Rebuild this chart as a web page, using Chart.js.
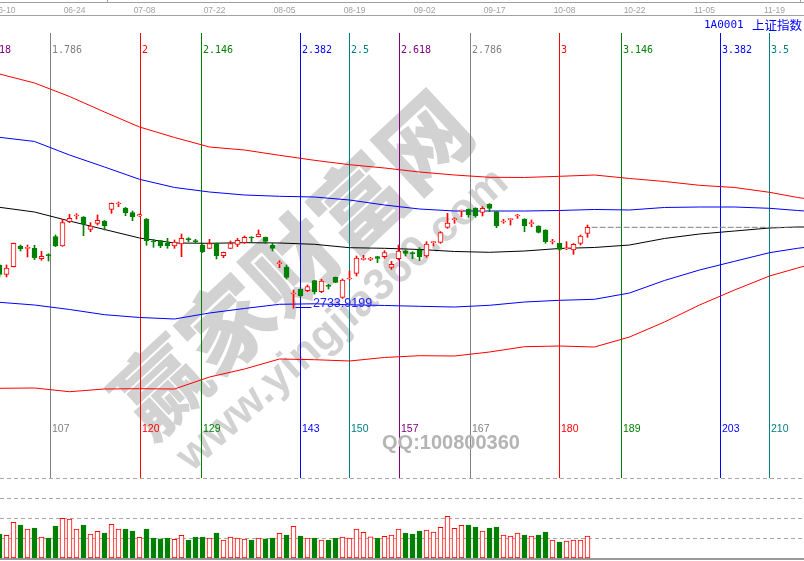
<!DOCTYPE html>
<html>
<head>
<meta charset="utf-8">
<script src="https://cdn.jsdelivr.net/npm/chart.js@4.4.0/dist/chart.umd.min.js"></script>
<style>
  html, body { margin: 0; padding: 0; background: #fff; }
  #kline { display: block; }
</style>
</head>
<body>
<canvas id="kline" width="804" height="561"></canvas>
<script>
// 1A0001 daily bars, first bar on screen = bar 100 (06-06)
const firstBar = 100;

const opens = [
  2859.5, 2832.0, 2854.6, 2914.6, 2907.9, 2907.9, 2877.8, 2888.5, 2941.6, 2914.6,
  2985.1, 3001.6, 2997.8, 2963.0, 2980.4, 2987.1, 3021.0, 3036.4, 3024.8, 3011.2,
  3001.6, 2992.9, 2928.2, 2930.0, 2922.4, 2914.6, 2920.4, 2934.9, 2929.1, 2917.5,
  2907.9, 2922.4, 2886.5, 2907.9, 2919.5, 2924.2, 2939.8, 2941.6, 2939.8, 2917.5,
  2863.3, 2853.7, 2775.4, 2789.0, 2785.0, 2814.0, 2782.1, 2799.5, 2823.8, 2765.8,
  2818.9, 2835.4, 2876.0, 2876.0, 2883.6, 2883.6, 2852.8, 2877.8, 2900.1, 2895.2,
  2903.0, 2885.6, 2924.2, 2925.3, 2968.8, 2990.9, 3016.1, 3021.0, 3023.9, 3012.3,
  3036.4, 3014.1, 2984.2, 2990.9, 3001.6, 2992.9, 2979.3, 2972.6, 2961.0, 2926.2,
  2922.4, 2905.9, 2903.0, 2922.4, 2951.4
];
const highs = [
  2861.0, 2859.5, 2923.3, 2917.5, 2917.5, 2916.6, 2899.2, 2892.3, 2946.5, 2992.0,
  3006.5, 3008.3, 3000.2, 2982.2, 3004.5, 2988.6, 3039.3, 3042.2, 3026.3, 3016.1,
  3007.4, 2994.4, 2934.0, 2931.1, 2936.9, 2932.0, 2949.4, 2938.7, 2934.0, 2919.0,
  2934.0, 2923.3, 2897.2, 2929.1, 2936.9, 2943.6, 2941.6, 2961.0, 2940.7, 2922.4,
  2872.0, 2859.5, 2787.0, 2789.9, 2801.5, 2815.1, 2818.0, 2803.5, 2824.7, 2818.9,
  2842.1, 2885.6, 2887.6, 2881.8, 2884.2, 2901.0, 2870.2, 2917.5, 2903.0, 2898.1,
  2909.7, 2927.1, 2927.1, 2956.1, 3009.4, 2996.7, 3019.0, 3021.9, 3025.7, 3028.6,
  3037.3, 3014.7, 2992.0, 2993.8, 3006.5, 2993.8, 2990.0, 2973.5, 2961.9, 2934.0,
  2923.3, 2927.1, 2921.9, 2946.5, 2975.5
];
const lows = [
  2824.7, 2824.7, 2853.7, 2900.1, 2882.7, 2874.9, 2873.1, 2871.1, 2912.6, 2913.7,
  2982.2, 2992.9, 2944.5, 2956.1, 2975.5, 2961.0, 3009.4, 3028.6, 3002.5, 2988.0,
  3000.2, 2916.6, 2910.8, 2909.7, 2907.9, 2907.9, 2883.6, 2927.1, 2922.4, 2895.8,
  2907.4, 2876.9, 2880.7, 2907.4, 2912.6, 2922.4, 2927.1, 2940.7, 2922.4, 2900.1,
  2851.7, 2818.9, 2733.9199, 2766.7, 2782.1, 2775.4, 2779.2, 2789.9, 2808.2, 2762.4,
  2816.0, 2827.6, 2874.0, 2872.0, 2866.2, 2878.9, 2847.0, 2874.0, 2885.6, 2877.8,
  2872.0, 2881.8, 2914.6, 2922.4, 2965.9, 2980.4, 2999.6, 2997.8, 2997.8, 3001.6,
  3014.1, 2967.7, 2980.4, 2975.5, 2994.9, 2956.1, 2970.6, 2952.3, 2922.4, 2920.4,
  2901.0, 2903.9, 2890.5, 2917.5, 2939.8
];
const closes = [
  2832.0, 2850.8, 2922.4, 2906.8, 2909.7, 2880.7, 2884.7, 2886.5, 2914.6, 2982.2,
  2994.9, 3003.6, 2978.4, 2972.6, 2989.1, 2973.5, 3038.4, 3038.4, 3011.2, 2999.6,
  3005.4, 2930.0, 2926.2, 2914.6, 2915.5, 2926.2, 2936.9, 2932.9, 2927.1, 2898.1,
  2921.3, 2886.5, 2896.3, 2921.3, 2931.1, 2939.8, 2937.8, 2949.4, 2928.2, 2907.9,
  2866.2, 2823.8, 2778.3, 2770.5, 2796.6, 2782.1, 2813.1, 2797.7, 2809.3, 2816.0,
  2821.8, 2879.8, 2877.8, 2877.8, 2878.9, 2895.2, 2861.5, 2900.1, 2893.4, 2891.4,
  2883.6, 2920.4, 2926.2, 2953.2, 2981.3, 2992.9, 3018.1, 3004.5, 3002.5, 3023.9,
  3023.9, 2972.6, 2986.2, 2992.9, 3003.6, 2973.5, 2981.3, 2954.3, 2927.1, 2928.2,
  2905.0, 2907.9, 2919.5, 2943.6, 2968.8
];
// 万手
const volumes = [
  16800, 15900, 25000, 23100, 20300, 21000, 14700, 14000, 22400, 27800,
  27300, 20300, 23100, 16800, 18700, 17500, 23600, 20300, 20300, 18900,
  14500, 20300, 14000, 13500, 14000, 13100, 15900, 12600, 14700, 14700,
  14000, 17500, 12600, 14700, 14000, 13300, 12600, 14000, 13500, 14000,
  17300, 16100, 22200, 15400, 14000, 14000, 12600, 12600, 14000, 14700,
  14000, 20300, 18000, 14900, 14000, 15200, 16100, 20300, 17500, 16800,
  18900, 19600, 18200, 21500, 29200, 20800, 22900, 23100, 21700, 18900,
  21000, 21700, 16100, 15400, 17500, 16100, 15400, 16100, 18200, 12600,
  11200, 11900, 12600, 12600, 15400
];

// band lines, read every 5 bars (they run on past the last bar)
const bandBars = [100, 105, 110, 115, 120, 125, 130, 135, 140, 145, 150, 155, 160,
  165, 170, 175, 180, 185, 190, 195, 200, 205, 210, 214, 215];
const bandUp2 = [3413.4, 3387.3, 3348.2, 3303.2, 3259.7, 3229.3, 3201.7, 3193.0, 3177.6,
  3163.1, 3150.4, 3140.8, 3129.2, 3120.5, 3113.8, 3113.3, 3116.7, 3120.5, 3110.4,
  3101.7, 3090.6, 3084.3, 3070.3, 3055.3, 3052.4];
const bandUp1 = [3229.8, 3217.7, 3178.5, 3143.7, 3108.0, 3084.3, 3071.2, 3062.5, 3058.7,
  3056.7, 3048.0, 3033.5, 3021.9, 3016.1, 3016.1, 3016.1, 3017.6, 3020.5, 3019.0,
  3026.3, 3027.7, 3027.7, 3023.9, 3017.6, 3016.1];
const bandMid = [3026.8, 3013.2, 2987.1, 2962.5, 2937.8, 2923.3, 2922.4, 2924.2, 2923.3,
  2919.5, 2909.7, 2907.9, 2904.5, 2898.7, 2896.3, 2900.1, 2907.4, 2910.3, 2917.5,
  2936.4, 2949.4, 2958.1, 2966.8, 2969.7, 2969.7];
const bandLow1 = [2751.3, 2743.5, 2730.5, 2715.4, 2707.3, 2702.9, 2720.3, 2733.4, 2745.5,
  2747.0, 2744.1, 2742.1, 2739.7, 2737.7, 2742.6, 2752.2, 2757.1, 2760.0, 2778.3,
  2814.6, 2845.0, 2870.2, 2895.2, 2907.9, 2910.3];
const bandLow2 = [2501.9, 2502.8, 2492.1, 2499.9, 2500.8, 2499.9, 2534.7, 2557.9, 2586.9,
  2584.9, 2581.1, 2591.3, 2596.5, 2595.6, 2607.2, 2622.6, 2624.6, 2621.7, 2650.7,
  2694.2, 2743.5, 2787.0, 2827.6, 2850.8, 2856.6];

// date ticks on the top strip
const tickBars = [101, 111, 121, 131, 141, 151, 161, 171, 181, 191, 201, 211];
const tickDates = ['06-10', '06-24', '07-08', '07-22', '08-05', '08-19',
  '09-02', '09-17', '10-08', '10-22', '11-05', '11-19'];

// fibonacci time lines
const fibUnit = 60;
const fibRatios = [1.618, 1.786, 2, 2.146, 2.382, 2.5, 2.618, 2.786, 3, 3.146, 3.382, 3.5];
const fibCounts = [97, 107, 120, 129, 143, 150, 157, 167, 180, 189, 203, 210];
const fibColors = ['#800080', '#808080', '#ff0000', '#008000', '#0000ff', '#008080',
  '#800080', '#808080', '#ff0000', '#008000', '#0000ff', '#008080'];

const volGrid = [14000, 28000, 42000, 56000];

const RED = '#ff0000';
const GREEN = '#008000';

const isUp = k => closes[k] >= opens[k];
const barAt = k => firstBar + k;

const bodyData = opens.map((o, k) => ({ x: barAt(k), y: [o, closes[k]] }));
const wickData = lows.map((l, k) => ({ x: barAt(k), y: [l, highs[k]] }));
const volData = volumes.map((v, k) => ({ x: barAt(k), y: v }));
const band = arr => arr.map((v, n) => ({ x: bandBars[n], y: v }));

const lastK = closes.length - 1;
const lastLine = [
  { x: barAt(lastK) + 0.6, y: closes[lastK] },
  { x: bandBars[bandBars.length - 1], y: closes[lastK] }
];

function bandSet(data, color) {
  return {
    type: 'line', data: data, borderColor: color, borderWidth: 1,
    pointRadius: 0, fill: false, tension: 0, yAxisID: 'y', order: 5
  };
}

// background: frame, dates, watermark, fib lines, volume grid
const paperPlugin = {
  id: 'paper',
  beforeDatasetsDraw(chart) {
    const ctx = chart.ctx;
    const xs = chart.scales.x;
    const yv = chart.scales.yv;
    const w = chart.width;
    ctx.save();
    ctx.fillStyle = '#ffffff';
    ctx.fillRect(0, 0, w, chart.height);

    // watermark
    ctx.fillStyle = '#d2d2d2';
    ctx.textAlign = 'center';
    ctx.textBaseline = 'middle';
    ctx.save();
    ctx.translate(292, 264);
    ctx.rotate(-43 * Math.PI / 180);
    ctx.font = '900 90px "Noto Sans CJK SC"';
    ctx.fillText('赢家财富网', 0, 0);
    ctx.restore();
    ctx.save();
    ctx.translate(343, 320);
    ctx.rotate(-42 * Math.PI / 180);
    ctx.font = 'bold 44px "Liberation Sans"';
    ctx.fillText('www.yingjia360.com', 0, 0);
    ctx.restore();

    // top strip
    ctx.strokeStyle = '#a0a0a0';
    ctx.lineWidth = 1;
    ctx.beginPath();
    ctx.moveTo(0, 2.5); ctx.lineTo(w, 2.5);
    ctx.moveTo(0, 15.5); ctx.lineTo(w, 15.5);
    ctx.moveTo(800.5, 0); ctx.lineTo(800.5, 2.5);
    ctx.moveTo(107.5, 0); ctx.lineTo(107.5, 2.5);
    ctx.stroke();
    ctx.fillStyle = '#a0a0a0';
    ctx.font = '8.5px "Liberation Sans"';
    tickBars.forEach((b, n) => {
      ctx.fillText(tickDates[n], xs.getPixelForValue(b) - 2, 11);
    });

    // title
    ctx.fillStyle = '#0000ff';
    ctx.textAlign = 'left';
    ctx.font = '11px "DejaVu Sans Mono"';
    ctx.fillText('1A0001', 704, 25.5);
    ctx.font = '12.5px "Noto Sans CJK SC"';
    ctx.fillText('上证指数', 752, 25.5);

    // fib time lines
    const yTop = 33;
    const yBot = Math.round(yv.getPixelForValue(volGrid[volGrid.length - 1]));
    fibRatios.forEach((r, n) => {
      const px = Math.round(xs.getPixelForValue(r * fibUnit)) + 0.5;
      ctx.strokeStyle = fibColors[n];
      ctx.beginPath();
      ctx.moveTo(px, yTop);
      ctx.lineTo(px, yBot);
      ctx.stroke();
      ctx.fillStyle = fibColors[n];
      ctx.font = '10px "DejaVu Sans Mono"';
      ctx.fillText(String(r), px + 1.5, 50);
      ctx.font = '10.5px "Liberation Sans"';
      ctx.fillText(String(fibCounts[n]), px + 1.5, 429);
    });

    // QQ
    ctx.fillStyle = '#b4b4b4';
    ctx.textAlign = 'center';
    ctx.font = 'bold 20px "Liberation Sans"';
    ctx.fillText('QQ:100800360', 451, 443);

    // volume grid
    ctx.strokeStyle = '#a8a8a8';
    ctx.setLineDash([4, 3]);
    volGrid.forEach(v => {
      const py = Math.round(yv.getPixelForValue(v)) + 0.5;
      ctx.beginPath();
      ctx.moveTo(0, py);
      ctx.lineTo(w, py);
      ctx.stroke();
    });
    ctx.setLineDash([]);
    ctx.fillStyle = '#999999';
    ctx.fillRect(0, Math.round(yv.getPixelForValue(0)), w, 2);
    ctx.restore();
  },
  afterDatasetsDraw(chart) {
    // lowest price note
    const ctx = chart.ctx;
    const xs = chart.scales.x;
    const ys = chart.scales.y;
    const lowVal = Math.min(...lows);
    const k = lows.indexOf(lowVal);
    const lx = xs.getPixelForValue(barAt(k));
    const ly = ys.getPixelForValue(lowVal);
    ctx.save();
    ctx.strokeStyle = '#0000ff';
    ctx.lineWidth = 1;
    ctx.beginPath();
    ctx.moveTo(lx + 2, Math.round(ly) - 0.5);
    ctx.lineTo(lx + 18, Math.round(ly) - 0.5);
    ctx.stroke();
    ctx.fillStyle = '#2020ff';
    ctx.font = '12.5px "Liberation Sans"';
    ctx.textAlign = 'left';
    ctx.textBaseline = 'alphabetic';
    ctx.fillText(lowVal.toFixed(4), lx + 19.5, ly - 1.5);
    ctx.restore();
  }
};

let klineChart = new Chart(document.getElementById('kline'), {
  type: 'bar',
  data: {
    datasets: [
      {
        label: 'body',
        data: bodyData,
        yAxisID: 'y',
        barThickness: 5,
        minBarLength: 1,
        borderWidth: 1,
        borderSkipped: false,
        backgroundColor: c => (isUp(c.dataIndex) ? '#ffffff' : GREEN),
        borderColor: c => (isUp(c.dataIndex) ? RED : GREEN),
        order: 1
      },
      {
        label: 'wick',
        data: wickData,
        yAxisID: 'y',
        barThickness: 1,
        borderWidth: 0,
        backgroundColor: c => (isUp(c.dataIndex) ? RED : GREEN),
        order: 2
      },
      {
        label: 'volume',
        data: volData,
        yAxisID: 'yv',
        barThickness: 5,
        borderWidth: 1,
        borderSkipped: false,
        backgroundColor: c => (isUp(c.dataIndex) ? '#ffffff' : GREEN),
        borderColor: c => (isUp(c.dataIndex) ? RED : GREEN),
        order: 1
      },
      bandSet(band(bandUp2), RED),
      bandSet(band(bandUp1), '#0000ff'),
      bandSet(band(bandMid), '#000000'),
      bandSet(band(bandLow1), '#0000ff'),
      bandSet(band(bandLow2), RED),
      {
        type: 'line', data: lastLine, borderColor: '#808080', borderWidth: 1,
        borderDash: [6, 2], pointRadius: 0, fill: false, yAxisID: 'y', order: 4
      }
    ]
  },
  options: {
    responsive: false,
    animation: false,
    layout: { padding: 0 },
    datasets: { bar: { grouped: false } },
    plugins: {
      legend: { display: false },
      title: { display: false },
      tooltip: { enabled: false }
    },
    scales: {
      x: {
        type: 'linear', display: false, offset: false,
        min: firstBar + 0.5 / 7, max: firstBar + 0.5 / 7 + 804 / 7
      },
      y: { type: 'linear', display: false, min: 2001.1, max: 3628 },
      yv: { type: 'linear', display: false, min: -2100, max: 390600 }
    }
  },
  plugins: [paperPlugin]
});
</script>
</body>
</html>
